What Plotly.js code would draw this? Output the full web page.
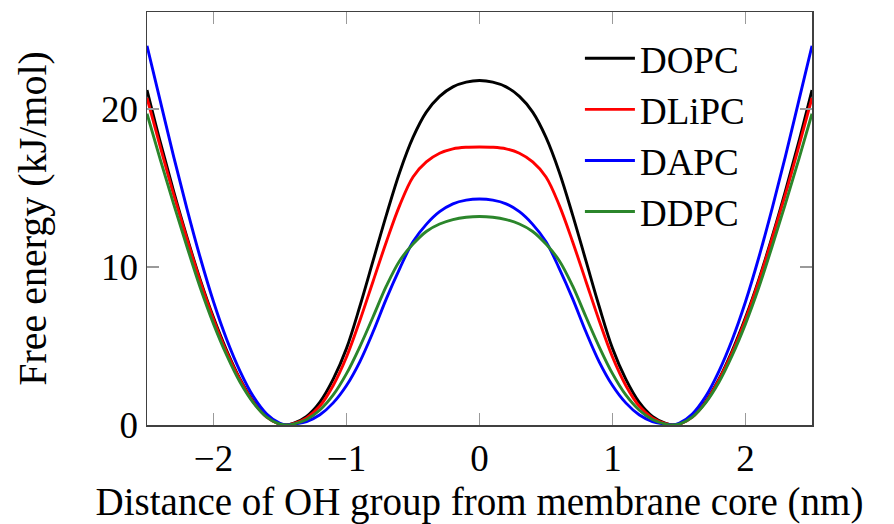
<!DOCTYPE html>
<html>
<head>
<meta charset="utf-8">
<script src="https://cdn.plot.ly/plotly-3.0.1.min.js"></script>
<style>html,body{margin:0;padding:0;background:#fff;}#chart{width:894px;height:524px;}</style>
</head>
<body>
<div id="chart"></div>
<script>
// Distance of OH group from membrane core (nm)
const distance = [-2.5,-2.4,-2.3,-2.2,-2.1,-2.0,-1.9,-1.8,-1.7,-1.6,-1.5,-1.45,-1.4,-1.3,-1.2,-1.1,-1.0,-0.9,-0.8,-0.7,-0.6,-0.5,-0.4,-0.3,-0.2,-0.1,0,
                  0.1,0.2,0.3,0.4,0.5,0.6,0.7,0.8,0.9,1.0,1.1,1.2,1.3,1.4,1.45,1.5,1.6,1.7,1.8,1.9,2.0,2.1,2.2,2.3,2.4,2.5];
// Free energy (kJ/mol)
const dopc  = [21.2,17.9,14.8,11.9,9.2,6.8,4.7,2.9,1.5,0.55,0.05,0,0.1,0.55,1.45,2.9,4.85,7.5,10.4,13.3,16.0,18.2,19.8,20.8,21.4,21.7,21.8,
               21.7,21.4,20.8,19.8,18.2,16.0,13.3,10.4,7.5,4.85,2.9,1.45,0.55,0.1,0,0.05,0.55,1.5,2.9,4.7,6.8,9.2,11.9,14.8,17.9,21.2];
const dlipc = [20.7,17.6,14.6,11.8,9.1,6.7,4.6,2.85,1.45,0.5,0.05,0,0.08,0.45,1.2,2.5,4.3,6.6,9.1,11.6,13.9,15.7,16.65,17.2,17.48,17.58,17.6,
               17.58,17.48,17.2,16.65,15.7,13.9,11.6,9.1,6.6,4.3,2.5,1.2,0.45,0.08,0,0.05,0.5,1.45,2.85,4.6,6.7,9.1,11.8,14.6,17.6,20.7];
const dapc  = [24.0,20.5,17.0,13.7,10.6,7.8,5.4,3.4,1.8,0.7,0.1,0,0.05,0.22,0.65,1.4,2.5,4.0,5.9,8.0,9.9,11.6,12.7,13.5,14.0,14.23,14.3,
               14.23,14.0,13.5,12.7,11.6,9.9,8.0,5.9,4.0,2.5,1.4,0.65,0.22,0.05,0,0.1,0.7,1.8,3.4,5.4,7.8,10.6,13.7,17.0,20.5,24.0];
const ddpc  = [19.7,16.8,14.0,11.3,8.7,6.4,4.4,2.7,1.4,0.5,0.05,0,0.06,0.35,0.95,1.9,3.25,4.95,6.85,8.8,10.4,11.45,12.25,12.72,13.0,13.15,13.2,
               13.15,13.0,12.72,12.25,11.45,10.4,8.8,6.85,4.95,3.25,1.9,0.95,0.35,0.06,0,0.05,0.5,1.4,2.7,4.4,6.4,8.7,11.3,14.0,16.8,19.7];
const seriesNames = ['DOPC','DLiPC','DAPC','DDPC'];
const seriesValues = [dopc, dlipc, dapc, ddpc];
const seriesColors = ['#000000','#ff0000','#0000ff','#2b862b'];
const xTicks = [-2,-1,0,1,2];
const yTicks = [0,10,20];

const FONT = 'Liberation Serif, Times New Roman, serif';
const traces = seriesNames.map((n,i)=>({
  x: distance, y: seriesValues[i], name: n, type:'scatter', mode:'lines',
  line:{color:seriesColors[i], width:2.9, shape:'spline', smoothing:1}
}));
const axisCommon = {
  showgrid:false, zeroline:false, showline:true, mirror:'allticks',
  linecolor:'#404040', linewidth:1.5, ticks:'inside', ticklen:12, tickwidth:1.2, tickcolor:'#9a9a9a',
  tickfont:{family:FONT, size:37, color:'#000'}
};
const layout = {
  width:894, height:524,
  margin:{l:147, r:81.5, t:12, b:99},
  paper_bgcolor:'#fff', plot_bgcolor:'#fff',
  font:{family:FONT, size:37, color:'#000'},
  xaxis: Object.assign({}, axisCommon, {range:[-2.5,2.5], tickvals:xTicks, ticktext:xTicks.map(v=>v<0?'\u2212'+Math.abs(v):String(v)),
     title:{text:'Distance of OH group from membrane core (nm)', font:{family:FONT,size:39,color:'#000'}, standoff:12}}),
  yaxis: Object.assign({}, axisCommon, {range:[0,26.14], tickvals:yTicks,
     title:{text:'Free energy (kJ/mol)', font:{family:FONT,size:40,color:'#000'}, standoff:42}}),
  showlegend:true,
  legend:{x:0.651, y:0.962, xanchor:'left', yanchor:'top', bgcolor:'rgba(0,0,0,0)', borderwidth:0,
     font:{family:FONT,size:37,color:'#000'}, itemwidth:50, tracegroupgap:0}
};
Plotly.newPlot('chart', traces, layout, {staticPlot:true, displayModeBar:false});
</script>
</body>
</html>
